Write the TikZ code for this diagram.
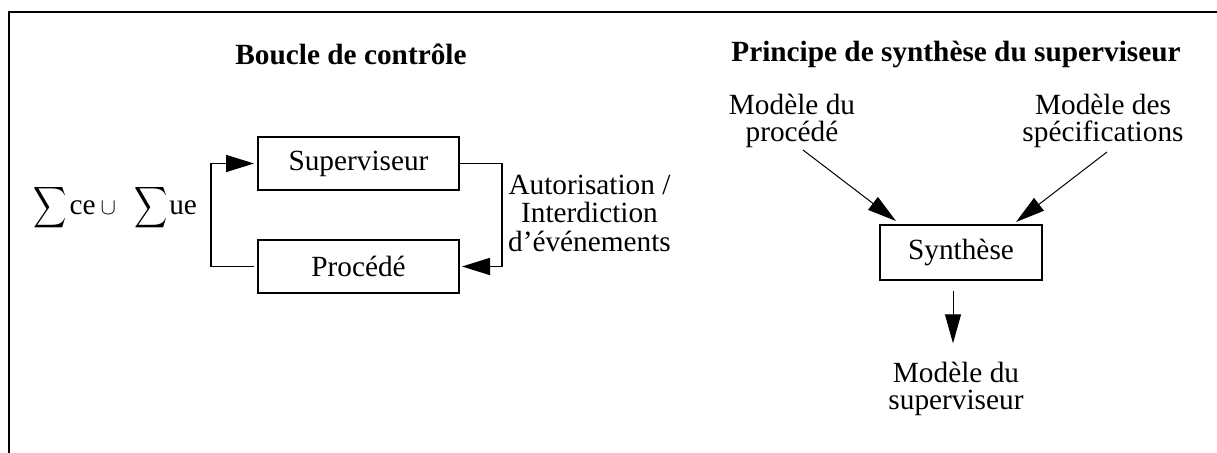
\documentclass[tikz,border=0pt]{standalone}
\usepackage{exscale}
\usepackage{fontspec}
\setmainfont{Liberation Serif}
\usetikzlibrary{arrows.meta}

\begin{document}
\begin{tikzpicture}
  [x=0.5pt,y=-0.5pt,
   every node/.style={font=\fontsize{14.65}{14.25}\selectfont,inner sep=0pt},
   box/.style={draw,line width=1pt,minimum width=100.5pt,minimum height=26.5pt},
   lbl/.style={align=center,font=\fontsize{14.65}{13.5}\selectfont},
   ttl/.style={font=\fontsize{14.65}{14.25}\selectfont\bfseries},
   link/.style={line width=0.85pt,-{Triangle[length=14pt,width=8.5pt]}},
   feed/.style={line width=0.5pt,-{Triangle[length=14.5pt,width=8pt]}}]
  \useasboundingbox (0,0) rectangle (1217,453);
  \draw[line width=1.25pt] (9,453) -- (9,12) -- (1217,12);

  \node[ttl] (t1) at (351,54) {Boucle de contrôle};
  \node[ttl] (t2) at (956,54) {Principe de synthèse du superviseur};

  \node[box] (sup) at (358.5,163.5) {Superviseur};
  \node[box] (proc) at (358.5,266.5) {Procédé};
  \node[anchor=base west] (ev) at (33,215) {\scalebox{.8}[1]{$\displaystyle\sum$}\kern1.5pt ce\kern2.5pt\scalebox{.8}{$\cup$}\kern9pt\scalebox{.8}[1]{$\displaystyle\sum$}\kern1pt ue};
  \node[align=center] (auth) at (589.5,213) {Autorisation /\\Interdiction\\d’événements};

  \draw[link] ([xshift=-1.5pt]proc.west) -- ++(-43,0) |- ([xshift=-1.5pt]sup.west);
  \draw[link] (sup.east) -- ++(42,0) |- ([xshift=1pt]proc.east);

  \node[box,minimum width=81pt,minimum height=27.5pt] (syn) at (961,252.5) {Synthèse};
  \node[lbl] (mproc) at (792,120.5) {Modèle du\\procédé};
  \node[lbl] (mspec) at (1103,120.5) {Modèle des\\spécifications};
  \node[lbl] (msup) at (956,388.5) {Modèle du\\superviseur};
  \coordinate (p1) at (803,150);
  \coordinate (p2) at (1107,152);

  \draw[feed] (p1) -- ([xshift=8.5pt,yshift=1.5pt]syn.north west);
  \draw[feed] (p2) -- ([xshift=-13.5pt,yshift=1pt]syn.north east);
  \draw[feed] ([xshift=-4pt,yshift=-5pt]syn.south) -- ([xshift=-1.5pt,yshift=9pt]msup.north);
\end{tikzpicture}
\end{document}
